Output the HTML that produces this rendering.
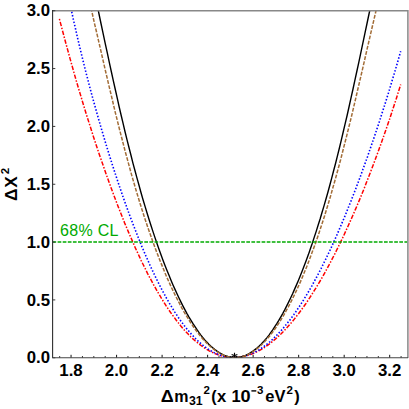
<!DOCTYPE html>
<html><head><meta charset="utf-8"><title>chart</title>
<style>html,body{margin:0;padding:0;background:#fff;}body{width:409px;height:409px;position:relative;overflow:hidden;font-family:"Liberation Sans",sans-serif;}</style>
</head><body>
<svg width="409" height="409" viewBox="0 0 409 409" style="position:absolute;left:0;top:0">
<defs><clipPath id="c"><rect x="52.5" y="10.5" width="355" height="347.5"/></clipPath></defs>
<rect width="409" height="409" fill="#fff"/>
<g clip-path="url(#c)" fill="none">
<path d="M59.4,18.9 L61.5,26.9 L63.6,34.8 L65.7,42.7 L67.8,50.4 L69.9,58.1 L72.0,65.6 L74.1,73.1 L76.2,80.5 L78.3,87.7 L80.5,94.9 L82.6,102.0 L84.7,108.9 L86.8,115.8 L89.0,122.6 L91.1,129.3 L93.2,135.9 L95.3,142.3 L97.4,148.7 L99.5,155.0 L101.7,161.2 L103.8,167.3 L105.9,173.4 L108.0,179.3 L110.1,185.1 L112.2,190.8 L114.3,196.4 L116.4,202.0 L118.5,207.4 L120.6,212.7 L122.7,218.0 L124.7,223.1 L126.8,228.1 L128.9,233.1 L131.0,237.9 L133.1,242.7 L135.1,247.4 L137.2,251.9 L139.3,256.4 L141.3,260.8 L143.4,265.0 L145.5,269.2 L147.5,273.3 L149.6,277.3 L151.7,281.1 L153.7,284.9 L155.8,288.6 L157.8,292.2 L159.9,295.7 L161.9,299.1 L164.0,302.4 L166.0,305.7 L168.1,308.8 L170.1,311.8 L172.2,314.7 L174.3,317.5 L176.3,320.3 L178.4,322.9 L180.4,325.4 L182.5,327.9 L184.5,330.2 L186.6,332.5 L188.6,334.6 L190.7,336.7 L192.7,338.6 L194.8,340.5 L196.9,342.2 L198.9,343.9 L201.0,345.5 L203.0,347.0 L205.1,348.3 L207.2,349.6 L209.2,350.8 L211.3,351.9 L213.4,352.9 L215.5,353.8 L217.5,354.6 L219.6,355.3 L221.7,355.9 L223.8,356.4 L225.9,356.8 L228.0,357.1 L230.1,357.3 L232.2,357.5 L234.3,357.5 L236.4,357.4 L238.5,357.3 L240.6,357.0 L242.7,356.6 L244.8,356.2 L246.9,355.6 L249.0,355.0 L251.1,354.2 L253.3,353.4 L255.4,352.5 L257.5,351.4 L259.7,350.3 L261.8,349.1 L263.9,347.8 L266.1,346.3 L268.2,344.8 L270.4,343.2 L272.5,341.5 L274.7,339.7 L276.9,337.8 L279.0,335.8 L281.2,333.7 L283.4,331.5 L285.6,329.2 L287.7,326.8 L289.9,324.3 L292.1,321.8 L294.3,319.1 L296.5,316.3 L298.7,313.5 L300.9,310.5 L303.1,307.4 L305.4,304.3 L307.6,301.0 L309.8,297.7 L312.0,294.2 L314.2,290.7 L316.5,287.1 L318.7,283.3 L321.0,279.5 L323.2,275.6 L325.5,271.5 L327.7,267.4 L330.0,263.2 L332.2,258.9 L334.5,254.5 L336.7,250.0 L339.0,245.4 L341.3,240.7 L343.6,235.9 L345.8,231.0 L348.1,226.0 L350.4,220.9 L352.7,215.7 L355.0,210.4 L357.3,205.1 L359.6,199.6 L361.9,194.0 L364.2,188.4 L366.4,182.6 L368.7,176.7 L371.0,170.8 L373.3,164.7 L375.6,158.6 L377.9,152.3 L380.2,146.0 L382.5,139.6 L384.8,133.0 L387.1,126.4 L389.4,119.7 L391.6,112.9 L393.9,105.9 L396.2,98.9 L398.4,91.8 L400.7,84.6" stroke="#ff0000" stroke-width="1.5" stroke-dasharray="1.5 1.6 4.4 1.6" stroke-dashoffset="0"/>
<path d="M69.7,1.9 L71.5,10.8 L73.4,19.6 L75.4,28.2 L77.3,36.8 L79.3,45.3 L81.3,53.6 L83.3,61.8 L85.3,70.0 L87.4,78.0 L89.4,85.8 L91.5,93.6 L93.6,101.3 L95.7,108.8 L97.8,116.3 L99.9,123.6 L102.0,130.8 L104.1,137.9 L106.2,144.9 L108.3,151.8 L110.4,158.5 L112.5,165.2 L114.6,171.7 L116.7,178.1 L118.8,184.4 L120.9,190.6 L123.0,196.7 L125.1,202.7 L127.2,208.5 L129.3,214.3 L131.4,219.9 L133.5,225.4 L135.6,230.8 L137.7,236.1 L139.8,241.3 L141.8,246.4 L143.9,251.3 L146.0,256.2 L148.1,260.9 L150.1,265.5 L152.2,270.0 L154.3,274.4 L156.3,278.7 L158.4,282.8 L160.4,286.9 L162.5,290.8 L164.6,294.7 L166.6,298.4 L168.7,302.0 L170.7,305.4 L172.8,308.8 L174.8,312.1 L176.9,315.2 L178.9,318.3 L181.0,321.2 L183.1,324.0 L185.1,326.7 L187.2,329.3 L189.3,331.7 L191.3,334.1 L193.4,336.3 L195.5,338.5 L197.5,340.5 L199.6,342.4 L201.7,344.2 L203.8,345.9 L205.8,347.4 L207.9,348.9 L210.0,350.2 L212.1,351.4 L214.2,352.6 L216.3,353.6 L218.4,354.4 L220.5,355.2 L222.6,355.9 L224.7,356.4 L226.8,356.9 L228.9,357.2 L231.1,357.4 L233.2,357.5 L235.3,357.5 L237.4,357.3 L239.6,357.1 L241.7,356.8 L243.8,356.3 L246.0,355.7 L248.1,355.0 L250.3,354.2 L252.4,353.3 L254.6,352.3 L256.8,351.1 L258.9,349.9 L261.1,348.5 L263.3,347.0 L265.4,345.4 L267.6,343.7 L269.8,341.9 L272.0,339.9 L274.1,337.9 L276.3,335.7 L278.5,333.4 L280.7,331.1 L282.9,328.6 L285.1,325.9 L287.3,323.2 L289.6,320.4 L291.8,317.4 L294.0,314.4 L296.2,311.2 L298.4,307.9 L300.7,304.5 L302.9,301.0 L305.1,297.3 L307.4,293.6 L309.6,289.8 L311.9,285.8 L314.1,281.7 L316.4,277.5 L318.7,273.2 L321.0,268.8 L323.2,264.2 L325.5,259.6 L327.8,254.8 L330.1,250.0 L332.4,245.0 L334.7,239.9 L337.0,234.7 L339.3,229.4 L341.6,223.9 L344.0,218.4 L346.3,212.7 L348.6,206.9 L351.0,201.0 L353.3,195.0 L355.7,188.9 L358.0,182.7 L360.4,176.4 L362.7,169.9 L365.1,163.3 L367.5,156.7 L369.8,149.9 L372.2,143.0 L374.6,136.0 L377.0,128.8 L379.4,121.6 L381.7,114.2 L384.1,106.8 L386.5,99.2 L388.9,91.5 L391.2,83.7 L393.6,75.7 L396.0,67.7 L398.3,59.6 L400.7,51.3" stroke="#0000ff" stroke-width="1.6" stroke-dasharray="1.5 1.85"/>
<path d="M94.7,-6.4 L96.9,3.9 L99.0,14.0 L101.1,24.0 L103.2,33.8 L105.2,43.4 L107.3,52.9 L109.3,62.3 L111.3,71.5 L113.3,80.6 L115.3,89.5 L117.3,98.3 L119.2,107.0 L121.2,115.5 L123.2,123.8 L125.1,132.0 L127.1,140.1 L129.1,148.0 L131.1,155.7 L133.0,163.3 L135.0,170.8 L137.0,178.1 L139.0,185.3 L140.9,192.3 L142.9,199.2 L144.9,205.9 L146.9,212.5 L148.9,219.0 L150.9,225.3 L152.9,231.4 L154.9,237.4 L156.9,243.3 L158.9,249.0 L160.9,254.6 L162.9,260.0 L164.9,265.2 L167.0,270.4 L169.0,275.3 L171.0,280.2 L173.0,284.9 L175.0,289.4 L177.0,293.8 L179.0,298.0 L181.0,302.1 L183.0,306.1 L185.0,309.9 L187.0,313.6 L189.0,317.1 L191.0,320.4 L193.0,323.7 L195.0,326.7 L197.0,329.7 L198.9,332.4 L200.9,335.1 L202.9,337.6 L204.8,339.9 L206.8,342.1 L208.8,344.2 L210.7,346.1 L212.7,347.8 L214.6,349.4 L216.6,350.9 L218.5,352.2 L220.5,353.4 L222.4,354.4 L224.4,355.3 L226.3,356.0 L228.2,356.6 L230.2,357.0 L232.1,357.3 L234.0,357.5 L236.0,357.5 L237.9,357.3 L239.8,357.0 L241.8,356.6 L243.7,356.0 L245.6,355.3 L247.6,354.4 L249.5,353.4 L251.4,352.2 L253.4,350.9 L255.3,349.4 L257.3,347.8 L259.2,346.1 L261.1,344.2 L263.1,342.1 L265.0,339.9 L267.0,337.6 L269.0,335.1 L270.9,332.4 L272.9,329.7 L274.8,326.7 L276.8,323.7 L278.8,320.4 L280.7,317.1 L282.7,313.6 L284.7,309.9 L286.6,306.1 L288.6,302.1 L290.6,298.0 L292.6,293.8 L294.5,289.4 L296.5,284.9 L298.5,280.2 L300.5,275.3 L302.4,270.4 L304.4,265.2 L306.4,260.0 L308.4,254.6 L310.3,249.0 L312.3,243.3 L314.2,237.4 L316.2,231.4 L318.1,225.3 L320.1,219.0 L322.0,212.5 L324.0,205.9 L325.9,199.2 L327.9,192.3 L329.8,185.3 L331.7,178.1 L333.6,170.8 L335.6,163.3 L337.5,155.7 L339.4,148.0 L341.3,140.1 L343.2,132.0 L345.1,123.8 L347.1,115.5 L349.0,107.0 L350.9,98.3 L352.9,89.5 L354.8,80.6 L356.8,71.5 L358.8,62.3 L360.8,52.9 L362.8,43.4 L364.8,33.8 L366.9,24.0 L369.0,14.0 L371.2,3.9 L373.4,-6.4" stroke="#000" stroke-width="1.4"/>
<path d="M89.7,2.7 L92.1,12.7 L94.3,22.6 L96.6,32.3 L98.8,41.9 L101.0,51.3 L103.1,60.6 L105.2,69.7 L107.3,78.7 L109.4,87.6 L111.5,96.3 L113.5,104.9 L115.5,113.3 L117.6,121.6 L119.6,129.8 L121.7,137.8 L123.7,145.6 L125.7,153.3 L127.8,160.9 L129.8,168.3 L131.8,175.6 L133.9,182.8 L135.9,189.8 L138.0,196.6 L140.0,203.3 L142.1,209.9 L144.1,216.3 L146.2,222.6 L148.3,228.8 L150.4,234.7 L152.4,240.6 L154.5,246.3 L156.6,251.9 L158.7,257.3 L160.8,262.6 L162.9,267.7 L164.9,272.7 L167.0,277.6 L169.1,282.3 L171.2,286.9 L173.3,291.3 L175.4,295.6 L177.5,299.7 L179.6,303.7 L181.6,307.6 L183.7,311.3 L185.8,314.8 L187.9,318.2 L189.9,321.5 L192.0,324.7 L194.0,327.7 L196.1,330.5 L198.1,333.2 L200.2,335.8 L202.2,338.2 L204.2,340.5 L206.3,342.6 L208.3,344.6 L210.3,346.5 L212.3,348.2 L214.3,349.7 L216.3,351.1 L218.4,352.4 L220.4,353.6 L222.3,354.5 L224.3,355.4 L226.3,356.1 L228.3,356.7 L230.3,357.1 L232.3,357.4 L234.3,357.5 L236.3,357.5 L238.2,357.3 L240.2,357.0 L242.2,356.6 L244.2,356.0 L246.2,355.3 L248.2,354.4 L250.1,353.4 L252.1,352.2 L254.1,350.9 L256.1,349.5 L258.1,347.9 L260.1,346.2 L262.1,344.3 L264.1,342.3 L266.1,340.1 L268.1,337.8 L270.1,335.4 L272.1,332.8 L274.1,330.1 L276.1,327.2 L278.2,324.2 L280.2,321.0 L282.2,317.7 L284.2,314.3 L286.2,310.7 L288.3,307.0 L290.3,303.1 L292.3,299.1 L294.4,294.9 L296.4,290.6 L298.4,286.2 L300.5,281.6 L302.5,276.9 L304.5,272.0 L306.6,267.0 L308.6,261.8 L310.6,256.5 L312.6,251.1 L314.7,245.5 L316.7,239.7 L318.7,233.9 L320.7,227.8 L322.7,221.7 L324.7,215.4 L326.7,208.9 L328.7,202.3 L330.7,195.6 L332.6,188.7 L334.6,181.7 L336.6,174.5 L338.6,167.2 L340.6,159.8 L342.5,152.2 L344.5,144.4 L346.5,136.6 L348.5,128.5 L350.5,120.4 L352.5,112.1 L354.5,103.6 L356.5,95.0 L358.5,86.3 L360.6,77.4 L362.7,68.4 L364.8,59.2 L366.9,49.9 L369.1,40.5 L371.3,30.9 L373.6,21.1 L375.9,11.2 L378.3,1.2" stroke="#a26c36" stroke-width="1.5" stroke-dasharray="3.8 1.5"/>
<path d="M52.5,242.0 H407.5" stroke="#00aa00" stroke-width="1.5" stroke-dasharray="3.7 1.4"/>
</g>
<path d="M52,10.75 H408.6 M407.9,10 V358" stroke="#888888" stroke-width="1.5" fill="none"/>
<path d="M52.6,357.75 h2.7 M52.6,299.92 h2.7 M52.6,242.08 h2.7 M52.6,184.25 h2.7 M52.6,126.41 h2.7 M52.6,68.57 h2.7 M52.6,10.74 h2.7" stroke="#3a3a3a" stroke-width="1" fill="none"/>
<path d="M59.68,357.7 v-1.55 M71.06,357.7 v-2.9 M82.44,357.7 v-1.55 M93.82,357.7 v-1.55 M105.20,357.7 v-1.55 M116.58,357.7 v-2.9 M127.96,357.7 v-1.55 M139.34,357.7 v-1.55 M150.72,357.7 v-1.55 M162.10,357.7 v-2.9 M173.48,357.7 v-1.55 M184.86,357.7 v-1.55 M196.24,357.7 v-1.55 M207.62,357.7 v-2.9 M219.00,357.7 v-1.55 M230.38,357.7 v-1.55 M241.76,357.7 v-1.55 M253.14,357.7 v-2.9 M264.52,357.7 v-1.55 M275.90,357.7 v-1.55 M287.28,357.7 v-1.55 M298.66,357.7 v-2.9 M310.04,357.7 v-1.55 M321.42,357.7 v-1.55 M332.80,357.7 v-1.55 M344.18,357.7 v-2.9 M355.56,357.7 v-1.55 M366.94,357.7 v-1.55 M378.32,357.7 v-1.55 M389.70,357.7 v-2.9 M401.08,357.7 v-1.55" stroke="#111111" stroke-width="1" fill="none"/>
<path d="M52.6,10 V358.1" stroke="#2e2e2e" stroke-width="1.1" fill="none"/>
<path d="M52.1,357.7 H408" stroke="#444" stroke-width="1.05" fill="none"/>
<path d="M234.5,352.70000000000005 V357.20000000000005 M231.63,356.76 L237.37,354.44 M237.37,356.76 L231.63,354.44" stroke="#000" stroke-width="1.1" fill="none"/>
<g font-family="Liberation Sans, sans-serif" font-weight="bold" font-size="16.8" fill="#000">
<text x="50.1" y="363.35" text-anchor="end">0.0</text>
<text x="50.1" y="305.52" text-anchor="end">0.5</text>
<text x="50.1" y="247.68" text-anchor="end">1.0</text>
<text x="50.1" y="189.84" text-anchor="end">1.5</text>
<text x="50.1" y="132.01" text-anchor="end">2.0</text>
<text x="50.1" y="74.17" text-anchor="end">2.5</text>
<text x="50.1" y="16.34" text-anchor="end">3.0</text>
<text x="71.01" y="376.4" text-anchor="middle">1.8</text>
<text x="116.53" y="376.4" text-anchor="middle">2.0</text>
<text x="162.05" y="376.4" text-anchor="middle">2.2</text>
<text x="207.57" y="376.4" text-anchor="middle">2.4</text>
<text x="253.09" y="376.4" text-anchor="middle">2.6</text>
<text x="298.61" y="376.4" text-anchor="middle">2.8</text>
<text x="344.13" y="376.4" text-anchor="middle">3.0</text>
<text x="389.65" y="376.4" text-anchor="middle">3.2</text>
</g>
<text x="60.0" y="236" font-family="Liberation Sans, sans-serif" font-size="16" letter-spacing="0.3" fill="#00aa00">68% CL</text>
<g font-family="Liberation Sans, sans-serif" font-weight="bold" fill="#000"><text transform="translate(160.85,402.30) scale(1.13,1)" font-size="16">Δ</text><text x="174.32" y="402.30" font-size="16">m</text><text x="189.04" y="405.20" font-size="12.3">31</text><text x="203.62" y="394.30" font-size="11.5">2</text><text x="211.28" y="402.30" font-size="16">(</text><text transform="translate(217.12,402.30) scale(1.04,1)" font-size="16">x</text><text x="231.40" y="402.30" font-size="16.5">1</text><text transform="translate(240.54,402.30) scale(1.1,1)" font-size="16.5">0</text><text x="257.11" y="394.30" font-size="11.5">3</text><text x="265.16" y="402.30" font-size="16.5">e</text><text x="274.61" y="402.30" font-size="16.5">V</text><text x="286.62" y="394.30" font-size="11.5">2</text><text x="294.15" y="402.30" font-size="16.5">)</text></g>
<rect x="251.4" y="390.2" width="4.9" height="1.4" fill="#000"/>
<g transform="translate(17.3,201.0) rotate(-90)" font-family="Liberation Sans, sans-serif" font-weight="bold" fill="#000"><text transform="scale(1.0,1)" font-size="17.3">Δ</text><text x="13.15" font-size="17.3">X</text><text x="26.7" y="-8.45" font-size="11.5">2</text></g>
</svg>
</body></html>
